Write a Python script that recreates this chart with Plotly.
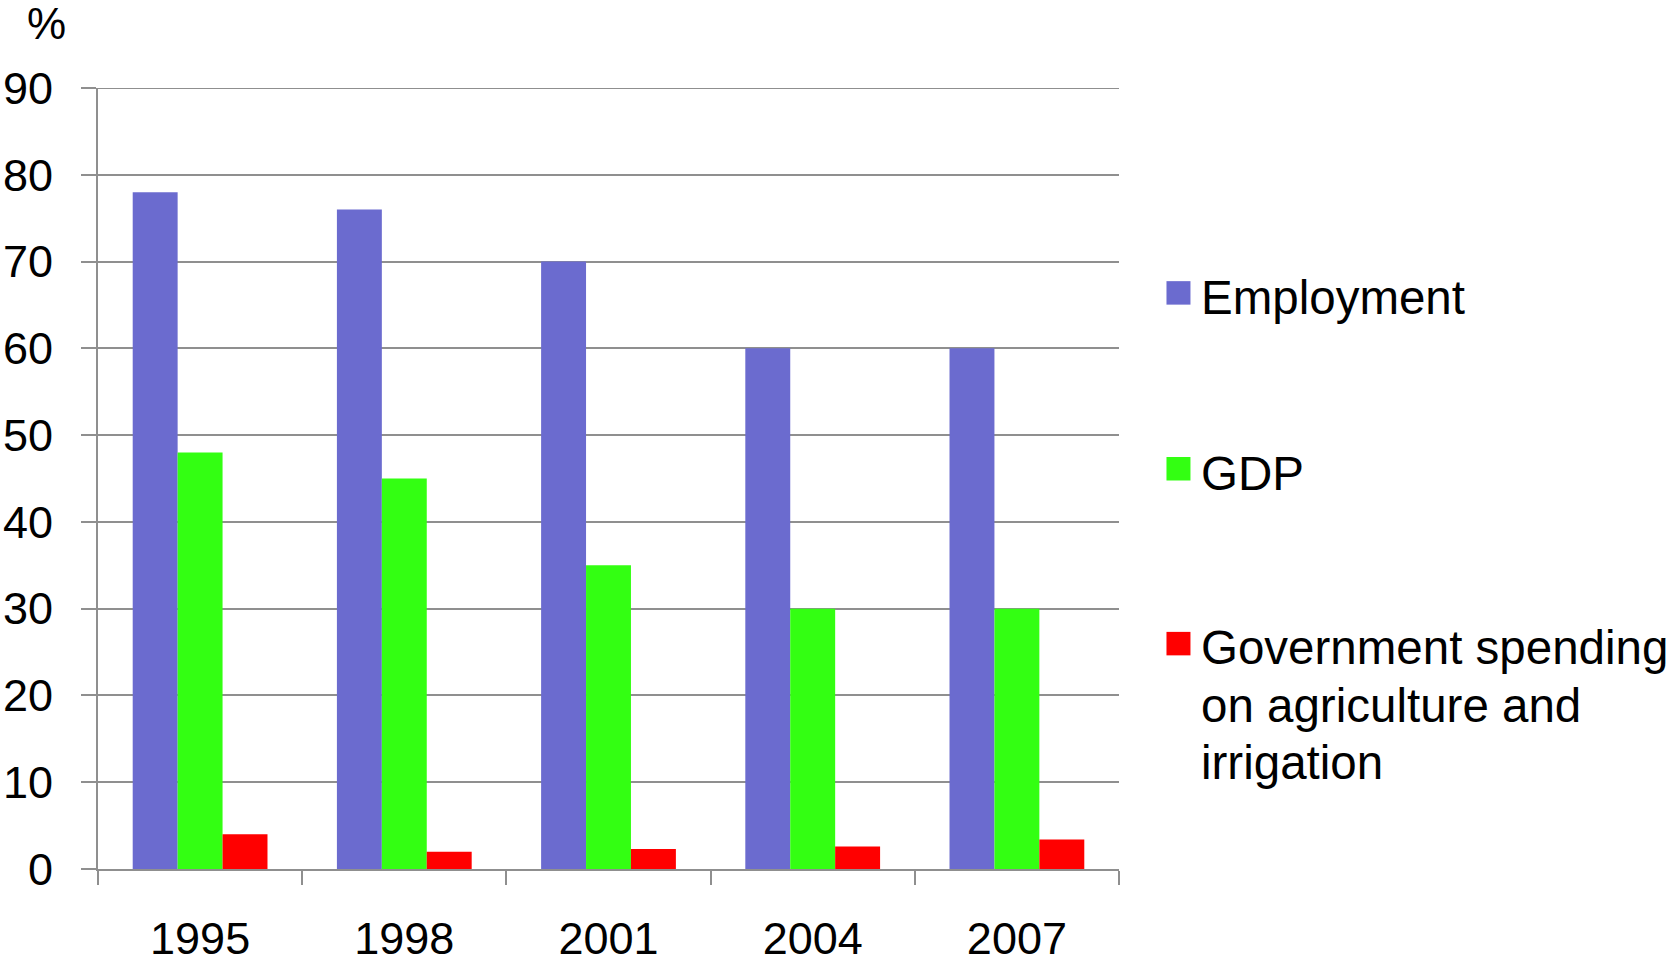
import plotly.graph_objects as go

years = ["1995", "1998", "2001", "2004", "2007"]
employment = [78, 76, 70, 60, 60]
gdp = [48, 45, 35, 30, 30]
gov_spending = [4.0, 2.0, 2.3, 2.6, 3.4]

series_names = ["Employment", "GDP", "Government spending<br>on agriculture and<br>irrigation"]
colors = ["#6b6bcf", "#33ff12", "#ff0000"]
y_ticks = [0, 10, 20, 30, 40, 50, 60, 70, 80, 90]

FONT = "Liberation Sans, Arial, sans-serif"
GRID = "#8f8f8f"

W, H = 1675, 965
# plot area in page pixels: x 98..1119.5, y 87.7..869.3
ml = 98
mt = 87.7
mr = W - 1119.5
mb = H - 869.3

fig = go.Figure()
for vals, name, col in zip([employment, gdp, gov_spending], series_names, colors):
    fig.add_trace(go.Bar(x=years, y=vals, name=name.replace("<br>", " "),
                         marker=dict(color=col, line=dict(width=0)), showlegend=False))

fig.update_layout(
    width=W, height=H,
    margin=dict(l=ml, r=mr, t=mt, b=mb, autoexpand=False),
    paper_bgcolor="white", plot_bgcolor="white",
    barmode="group", bargap=0.34, bargroupgap=0,
    font=dict(family=FONT, color="black"),
)
fig.update_xaxes(
    type="category", showline=True, linecolor=GRID, linewidth=2,
    ticks="outside", tickson="boundaries", ticklen=14, tickcolor=GRID, tickwidth=2,
    tickfont=dict(size=45, family=FONT, color="black"), ticklabelstandoff=29,
    showgrid=False, zeroline=False,
)
fig.update_yaxes(
    range=[0, 90], tickvals=y_ticks, ticktext=[str(v) for v in y_ticks],
    showline=True, linecolor=GRID, linewidth=2,
    ticks="outside", ticklen=15, tickcolor=GRID, tickwidth=2,
    showgrid=True, gridcolor=GRID, gridwidth=2, zeroline=False,
    tickfont=dict(size=45, family=FONT, color="black"), ticklabelstandoff=19,
)
# top gridline at 90 (plotly skips a gridline lying on the plot edge)
fig.add_shape(type="line", xref="paper", yref="y", x0=0, x1=1, y0=90, y1=90,
              line=dict(color=GRID, width=2))


def px_x(px):
    return (px - ml) / (W - ml - mr)


def px_y(py):
    return (H - py - mb) / (H - mt - mb)


# "%" unit label
fig.add_annotation(text="%", xref="paper", yref="paper",
                   x=px_x(46), y=px_y(23), showarrow=False,
                   xanchor="center", yanchor="middle",
                   font=dict(size=44, family=FONT, color="black"))

# manual legend (first-line cap centres in page pixels)
legend_rows = [297, 473, 648]
LINE_GAP = 57.5
for name, col, yc in zip(series_names, colors, legend_rows):
    fig.add_shape(type="rect", xref="paper", yref="paper",
                  x0=px_x(1167), x1=px_x(1191), y0=px_y(yc - 16), y1=px_y(yc + 7.5),
                  fillcolor=col, line=dict(width=0))
    for i, line in enumerate(name.split("<br>")):
        fig.add_annotation(text=line, xref="paper", yref="paper",
                           x=px_x(1200), y=px_y(yc + i * LINE_GAP), showarrow=False,
                           xanchor="left", yanchor="middle", align="left",
                           font=dict(size=47.5, family=FONT, color="black"))

fig.write_html(
    "out.html",
    config={"displayModeBar": False},
    post_script="document.body.style.margin='0px';document.body.style.overflow='hidden';",
)
